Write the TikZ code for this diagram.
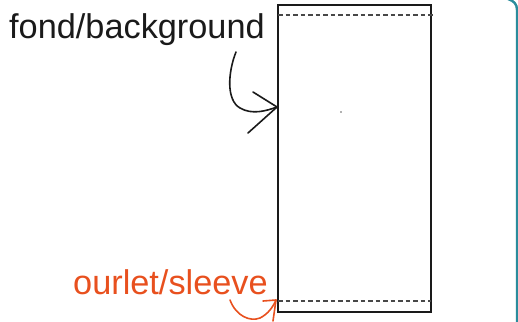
\documentclass[tikz,border=0pt]{standalone}
\usepackage{fontspec}
\setmainfont{Liberation Sans}
\definecolor{inkorange}{HTML}{E8501E}
\definecolor{ink}{HTML}{1A1A1A}
\definecolor{frameteal}{HTML}{2A8C9C}
\begin{document}
\begin{tikzpicture}[x=1pt,y=-1pt,
  sheet/.style={draw=ink,line width=1.3pt},
  hem/.style={draw=ink!80,line width=1.7pt,dash pattern=on 4.5pt off 3pt},
  pen/.style={line width=1.6pt,line cap=round,line join=round},
  lbl/.style={inner sep=0pt,font=\fontsize{34.3}{34}\selectfont}]
\useasboundingbox (0,0) rectangle (518,321);
% sheet
\draw[sheet] (278,5) rectangle (431,312);
\coordinate (tl) at (278,15);
\coordinate (tr) at (433,15);
\coordinate (bl) at (278,301);
\coordinate (br) at (431,301);
\draw[hem] (tl) -- (tr);
\draw[hem] (bl) -- (br);
\fill[black!30] (340,111) rectangle (342,113);
% teal frame edge
\draw[frameteal,line width=2.4pt] (508,-1) .. controls (514,1) and (517,4) .. (517,10) -- (517,322);
% labels
\node[lbl,anchor=base west,text=ink] (bg) at (9,38) {fond/background};
\node[lbl,anchor=base west,text=inkorange] (sl) at (73,294) {ourlet/sleeve};
% black arrow
\coordinate (a0) at (236,52);
\coordinate (atip) at (277,107);
\draw[pen,ink] (a0) .. controls (228,72) and (226,100) .. (240,108)
  .. controls (252,115) and (266,111) .. (atip);
\draw[pen,ink] (253,92) -- (atip) -- (248,133);
% orange arrow
\coordinate (b0) at (230,300);
\coordinate (btip) at (276,300);
\draw[pen,inkorange] (b0) .. controls (236,316) and (250,322) .. (260,318)
  .. controls (268,314) and (273,307) .. (btip);
\draw[pen,inkorange] (263,301) -- (btip) -- (273,321);
\end{tikzpicture}
\end{document}
